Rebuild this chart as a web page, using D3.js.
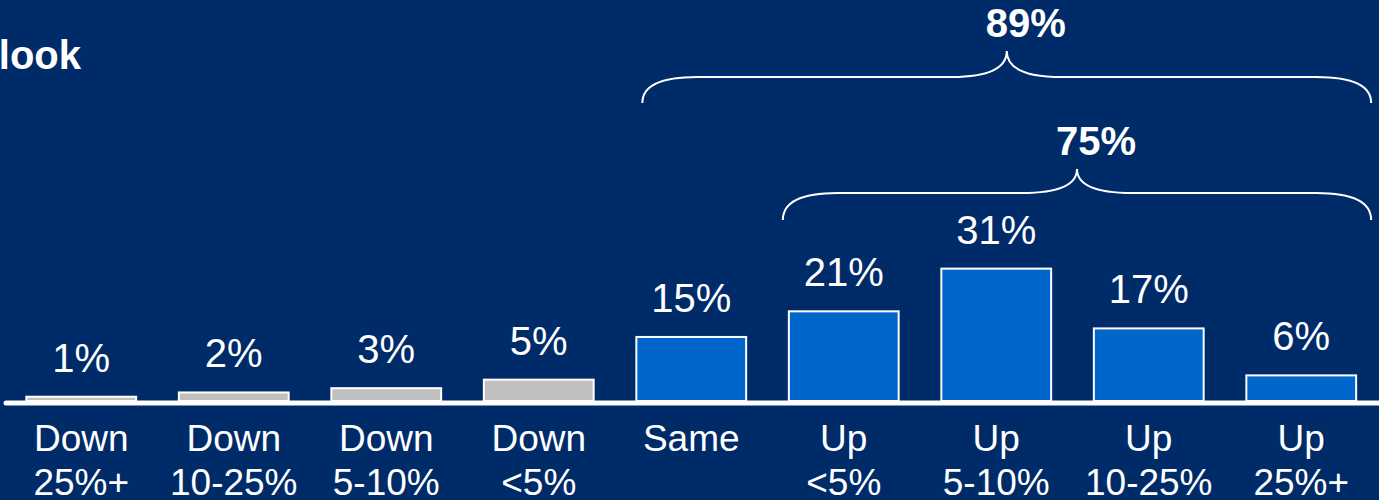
<!DOCTYPE html>
<html>
<head>
<meta charset="utf-8">
<script src="https://cdn.jsdelivr.net/npm/d3@7"></script>
<style>
  html, body { margin: 0; padding: 0; background: #002B69; }
  svg { display: block; font-family: Arial, 'Liberation Sans', sans-serif; }
</style>
</head>
<body>
<div id="chart"></div>
<script>
// chart data
const categories = ['Down 25%+', 'Down 10-25%', 'Down 5-10%', 'Down <5%', 'Same', 'Up <5%', 'Up 5-10%', 'Up 10-25%', 'Up 25%+']
const labelLine1 = ['Down', 'Down', 'Down', 'Down', 'Same', 'Up', 'Up', 'Up', 'Up']
const labelLine2 = ['25%+', '10-25%', '5-10%', '<5%', '', '<5%', '5-10%', '10-25%', '25%+']
const values = [1, 2, 3, 5, 15, 21, 31, 17, 6]
const groups = ['down', 'down', 'down', 'down', 'up', 'up', 'up', 'up', 'up']
const braceLabels = ['89%', '75%']
const braceFrom = ['Same', 'Up <5%']
const braceTo = ['Up 25%+', 'Up 25%+']
const title = 'look'

const width = 1379
const height = 500
const baseY = 401

const svg = d3.select('#chart').append('svg')
  .attr('width', width)
  .attr('height', height)

svg.append('rect')
  .attr('width', width)
  .attr('height', height)
  .attr('fill', '#002B69')

const x = d3.scaleBand()
  .domain(categories)
  .range([5, 1377.5])
  .paddingInner(0.28)
  .paddingOuter(0.14)

const y = d3.scaleLinear()
  .domain([0, 100])
  .range([baseY, baseY - 427])

const color = d3.scaleOrdinal()
  .domain(['down', 'up'])
  .range(['#C0C0C0', '#0066CC'])

// title (cut off at left edge as in the original slide)
svg.append('text')
  .attr('x', 81)
  .attr('y', 69)
  .attr('text-anchor', 'end')
  .attr('fill', '#fff')
  .attr('font-weight', 'bold')
  .attr('font-size', 40)
  .text(title)

// bars
svg.append('g')
  .selectAll('rect')
  .data(values)
  .join('rect')
  .attr('x', (d, i) => x(categories[i]))
  .attr('y', d => y(d))
  .attr('width', x.bandwidth())
  .attr('height', d => baseY - y(d))
  .attr('fill', (d, i) => color(groups[i]))
  .attr('stroke', '#fff')
  .attr('stroke-width', 2)

// baseline
svg.append('line')
  .attr('x1', 6)
  .attr('x2', width + 5)
  .attr('y1', baseY + 2)
  .attr('y2', baseY + 2)
  .attr('stroke', '#fff')
  .attr('stroke-width', 5)
  .attr('stroke-linecap', 'round')

// value labels
svg.append('g')
  .selectAll('text')
  .data(values)
  .join('text')
  .attr('x', (d, i) => x(categories[i]) + x.bandwidth() / 2)
  .attr('y', d => y(d) - 25)
  .attr('text-anchor', 'middle')
  .attr('fill', '#fff')
  .attr('font-size', 40)
  .text(d => d + '%')

// category labels
const cat = svg.append('g')
  .selectAll('text')
  .data(categories)
  .join('text')
  .attr('x', d => x(d) + x.bandwidth() / 2)
  .attr('y', 451)
  .attr('text-anchor', 'middle')
  .attr('fill', '#fff')
  .attr('font-size', 37)
cat.append('tspan')
  .text((d, i) => labelLine1[i])
cat.append('tspan')
  .attr('x', d => x(d) + x.bandwidth() / 2)
  .attr('dy', 44)
  .text((d, i) => labelLine2[i])

// braces
const braceY = [[103, 77, 51], [220, 193, 169]]
function bracePath (x0, x1, yb, yh, yt) {
  const xm = (x0 + x1) / 2
  const r = 55
  return `M${x0},${yb} Q${x0},${yh} ${x0 + r},${yh} L${xm - r},${yh} Q${xm},${yh} ${xm},${yt}` +
    ` Q${xm},${yh} ${xm + r},${yh} L${x1 - r},${yh} Q${x1},${yh} ${x1},${yb}`
}
braceLabels.forEach((lab, i) => {
  const x0 = x(braceFrom[i]) + (i === 0 ? 6 : -6)
  const x1 = x(braceTo[i]) + x.bandwidth() + 15
  const [yb, yh, yt] = braceY[i]
  svg.append('path')
    .attr('d', bracePath(x0, x1, yb, yh, yt))
    .attr('fill', 'none')
    .attr('stroke', '#fff')
    .attr('stroke-width', 2)
  svg.append('text')
    .attr('x', (x0 + x1) / 2 + 19)
    .attr('y', yt - 14)
    .attr('text-anchor', 'middle')
    .attr('fill', '#fff')
    .attr('font-weight', 'bold')
    .attr('font-size', 40)
    .text(lab)
})
</script>
</body>
</html>
